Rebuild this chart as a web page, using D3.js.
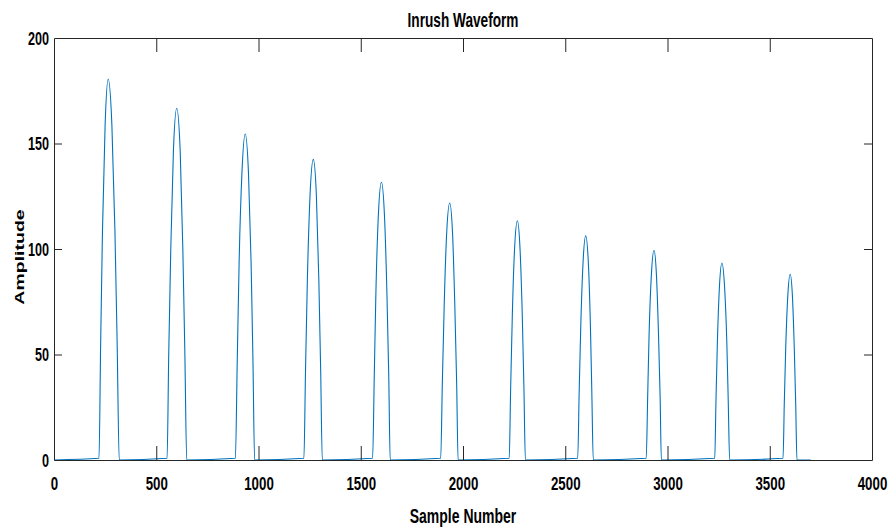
<!DOCTYPE html>
<html>
<head>
<meta charset="utf-8">
<script src="https://cdn.jsdelivr.net/npm/d3@7"></script>
<style>
  body { margin: 0; background: #fff; }
  .canvas svg { display: block; }
  text { font-family: "Liberation Sans", Arial, sans-serif; font-weight: bold; fill: #000; }
</style>
</head>
<body>
<div class="canvas"></div>
<script>
// data: [sample, amplitude] for each inrush pulse
const lead = [[0, 0]];
const pulse1 = [[220, 0.8], [228, 54.2], [237, 108.4], [250, 158.9], [265, 180.6], [283, 158.9], [298, 108.4], [309, 54.2], [319, 0]];
const pulse2 = [[553, 0.8], [561, 50], [571, 100], [584, 146.7], [600, 166.7], [617, 146.7], [630, 100], [640, 50], [649, 0]];
const pulse3 = [[887, 0.8], [896, 46.4], [905, 92.7], [919, 136], [935, 154.5], [951, 136], [964, 92.7], [973, 46.4], [981, 0]];
const pulse4 = [[1222, 0.8], [1230, 42.8], [1239, 85.5], [1252, 125.4], [1268, 142.5], [1283, 125.4], [1295, 85.5], [1304, 42.8], [1312, 0]];
const pulse5 = [[1558, 0.8], [1566, 39.5], [1574, 79], [1586, 115.8], [1601, 131.6], [1616, 115.8], [1628, 79], [1637, 39.5], [1644, 0]];
const pulse6 = [[1891, 0.8], [1899, 36.5], [1908, 73.1], [1920, 107.2], [1935, 121.8], [1949, 107.2], [1960, 73.1], [1969, 36.5], [1976, 0]];
const pulse7 = [[2226, 0.8], [2233, 34], [2241, 68], [2252, 99.8], [2266, 113.4], [2279, 99.8], [2290, 68], [2298, 34], [2305, 0]];
const pulse8 = [[2561, 0.8], [2568, 31.9], [2576, 63.7], [2587, 93.5], [2600, 106.2], [2613, 93.5], [2623, 63.7], [2630, 31.9], [2637, 0]];
const pulse9 = [[2896, 0.8], [2903, 29.8], [2910, 59.6], [2921, 87.5], [2934, 99.4], [2946, 87.5], [2956, 59.6], [2964, 29.8], [2970, 0]];
const pulse10 = [[3231, 0.8], [3237, 28], [3244, 56], [3254, 82.2], [3266, 93.4], [3279, 82.2], [3290, 56], [3297, 28], [3304, 0]];
const pulse11 = [[3565, 0.8], [3571, 26.4], [3578, 52.8], [3588, 77.4], [3600, 88], [3611, 77.4], [3620, 52.8], [3627, 26.4], [3633, 0]];
const tail = [[3700, 0]];

const xTicks = [0, 500, 1000, 1500, 2000, 2500, 3000, 3500, 4000];
const yTicks = [0, 50, 100, 150, 200];

const waveform = [].concat(lead, pulse1, pulse2, pulse3, pulse4, pulse5, pulse6,
  pulse7, pulse8, pulse9, pulse10, pulse11, tail);

const width = 888;
const height = 531;
const margin = { top: 38, right: 16, bottom: 71, left: 54 };
const graphWidth = width - margin.left - margin.right;
const graphHeight = height - margin.top - margin.bottom;
const squeeze = 0.7; // the figure is narrowed, text looks condensed
const axisColor = '#262626';

const svg = d3.select('.canvas').append('svg')
  .attr('width', width)
  .attr('height', height);

const graph = svg.append('g')
  .attr('transform', `translate(${margin.left},${margin.top})`);

const x = d3.scaleLinear().domain([0, 4000]).range([0, graphWidth]);
const y = d3.scaleLinear().domain([0, 200]).range([graphHeight, 0]);

// line first, axes drawn on top
const line = d3.line()
  .x(d => x(d[0]))
  .y(d => y(d[1]))
  .curve(d3.curveMonotoneX);

graph.append('path')
  .datum(waveform)
  .attr('fill', 'none')
  .attr('stroke', '#0072BD')
  .attr('stroke-width', 1.1)
  .attr('d', line);

// axes (ticks inward, like matlab box)
const xAxis = d3.axisBottom(x).tickValues(xTicks).tickSize(-14).tickSizeOuter(0).tickFormat(d3.format('d'));
const xAxisTop = d3.axisTop(x).tickValues(xTicks).tickSize(-14).tickSizeOuter(0).tickFormat('');
const yAxis = d3.axisLeft(y).tickValues(yTicks).tickSize(-8).tickSizeOuter(0).tickFormat(d3.format('d'));
const yAxisRight = d3.axisRight(y).tickValues(yTicks).tickSize(-8).tickSizeOuter(0).tickFormat('');

const xAxisGroup = graph.append('g')
  .attr('transform', `translate(0,${graphHeight})`)
  .call(xAxis);
const xTopGroup = graph.append('g').call(xAxisTop);
const yAxisGroup = graph.append('g').call(yAxis);
const yRightGroup = graph.append('g')
  .attr('transform', `translate(${graphWidth},0)`)
  .call(yAxisRight);

[xAxisGroup, xTopGroup, yAxisGroup, yRightGroup].forEach(g => {
  g.select('.domain').attr('stroke', axisColor).attr('stroke-width', 1);
  g.selectAll('.tick line').attr('stroke', axisColor).attr('stroke-width', 1);
});

// end ticks sit on the box corners, drop them
xTopGroup.selectAll('.tick').filter(d => d === 0 || d === 4000).select('line').remove();
xAxisGroup.selectAll('.tick').filter(d => d === 0 || d === 4000).select('line').remove();
yAxisGroup.selectAll('.tick').filter(d => d === 0 || d === 200).select('line').remove();
yRightGroup.selectAll('.tick').filter(d => d === 0 || d === 200).select('line').remove();

xAxisGroup.selectAll('text')
  .attr('y', 30)
  .attr('dy', 0)
  .attr('transform', `scale(${squeeze},1)`)
  .style('font-size', '19px')
  .style('font-family', '"Liberation Sans", Arial, sans-serif')
  .style('font-weight', 'bold')
  .attr('fill', '#262626');

yAxisGroup.selectAll('text')
  .attr('x', -7)
  .attr('dy', '0.36em')
  .attr('transform', `scale(${squeeze},1)`)
  .style('font-size', '18px')
  .style('font-family', '"Liberation Sans", Arial, sans-serif')
  .style('font-weight', 'bold')
  .attr('fill', '#262626');

// title and axis labels
svg.append('text')
  .attr('transform', `translate(${margin.left + graphWidth / 2},26.5) scale(${squeeze},1)`)
  .attr('text-anchor', 'middle')
  .style('font-size', '19.5px')
  .text('Inrush Waveform');

svg.append('text')
  .attr('transform', `translate(${margin.left + graphWidth / 2},523) scale(${squeeze},1)`)
  .attr('text-anchor', 'middle')
  .style('font-size', '20px')
  .text('Sample Number');

svg.append('text')
  .attr('transform', `translate(24,257) scale(${squeeze},1) rotate(-90)`)
  .attr('text-anchor', 'middle')
  .style('font-size', '19.5px')
  .text('Amplitude');
</script>
</body>
</html>
